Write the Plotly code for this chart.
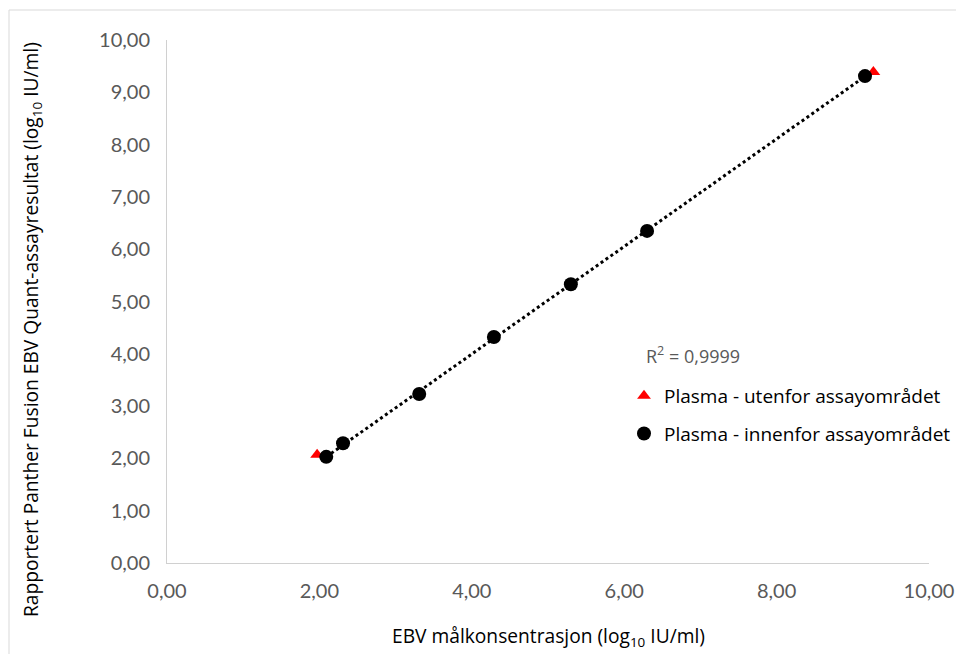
import numpy as np
import plotly.graph_objects as go

# Data
x_outside = [1.97, 9.27]
y_outside = [2.07, 9.39]
x_inside = [2.09, 2.31, 3.31, 4.29, 5.30, 6.30, 9.16]
y_inside = [2.03, 2.29, 3.23, 4.32, 5.33, 6.35, 9.31]
tick_vals = [0, 1, 2, 3, 4, 5, 6, 7, 8, 9, 10]
x_tick_vals = [0, 2, 4, 6, 8, 10]

name_outside = "Plasma - utenfor assayområdet"
name_inside = "Plasma - innenfor assayområdet"
r2_text = "R<sup>2</sup> = 0,9999"

# linear trendline through the in-range series
slope, intercept = np.polyfit(x_inside, y_inside, 1)
tx = np.array([min(x_inside), max(x_inside)])
ty = slope * tx + intercept

W, H = 956, 654
L, R, T, B = 167, 27, 40, 91
pw, ph = W - L - R, H - T - B

def px_x(p):  # screen px -> paper
    return (p - L) / pw

def px_y(p):
    return (H - B - p) / ph

fig = go.Figure()
fig.add_trace(go.Scatter(
    x=x_outside, y=y_outside, mode="markers", name=name_outside,
    marker=dict(symbol="triangle-up", color="#ff0000", size=12),
    legendgroup="a",
))
fig.add_trace(go.Scatter(
    x=tx, y=ty, mode="lines", showlegend=False, hoverinfo="skip",
    line=dict(color="black", width=3, dash="dot"),
))
fig.add_trace(go.Scatter(
    x=x_inside, y=y_inside, mode="markers", name=name_inside,
    marker=dict(symbol="circle", color="black", size=14),
    legendgroup="b",
))

tick_font = dict(family="Lato, Carlito, sans-serif", size=20, color="#595959")
title_font = dict(family="Open Sans, sans-serif", size=19.2, color="#000000")

fig.update_layout(
    width=W, height=H,
    margin=dict(l=L, r=R, t=T, b=B, autoexpand=False),
    plot_bgcolor="white", paper_bgcolor="white",
    separators=", ",
    showlegend=True,
    legend=dict(
        x=px_x(624), y=px_y(377), xanchor="left", yanchor="top",
        font=dict(family="Open Sans, sans-serif", size=19, color="#000000"),
        traceorder="grouped", tracegroupgap=10,
        bgcolor="rgba(0,0,0,0)",
    ),
    xaxis=dict(
        range=[0, 10], tickvals=x_tick_vals, tickformat=".2f",
        showgrid=False, zeroline=False, showline=True,
        linecolor="#d0d0d0", linewidth=1, ticks="",
        tickfont=tick_font, ticklabelstandoff=10, automargin=False,
    ),
    yaxis=dict(
        range=[0, 10], tickvals=tick_vals, tickformat=".2f",
        showgrid=False, zeroline=False, showline=True,
        linecolor="#d0d0d0", linewidth=1, ticks="",
        tickfont=tick_font, ticklabelstandoff=12, automargin=False,
    ),
    annotations=[
        dict(text="EBV målkonsentrasjon (log<sub>10</sub> IU/ml)",
             xref="paper", yref="paper", x=px_x(548), y=px_y(636),
             xanchor="center", yanchor="middle", showarrow=False,
             font=title_font),
        dict(text="Rapportert Panther Fusion EBV Quant-assayresultat (log<sub>10</sub> IU/ml)",
             xref="paper", yref="paper", x=px_x(31), y=px_y(330),
             xanchor="center", yanchor="middle", showarrow=False,
             textangle=-90, font=title_font),
        dict(text=r2_text, xref="paper", yref="paper",
             x=px_x(644), y=px_y(355), xanchor="left", yanchor="middle",
             showarrow=False,
             font=dict(family="Open Sans, sans-serif", size=18, color="#595959")),
    ],
    shapes=[
        dict(type="rect", xref="paper", yref="paper",
             x0=px_x(9), y0=px_y(10), x1=px_x(975), y1=px_y(675),
             line=dict(color="#d9d9d9", width=1), layer="below"),
    ],
)

fig.write_html(
    "out.html",
    config={"displayModeBar": False},
    post_script="document.body.style.margin='0';document.body.style.overflow='hidden';",
)
